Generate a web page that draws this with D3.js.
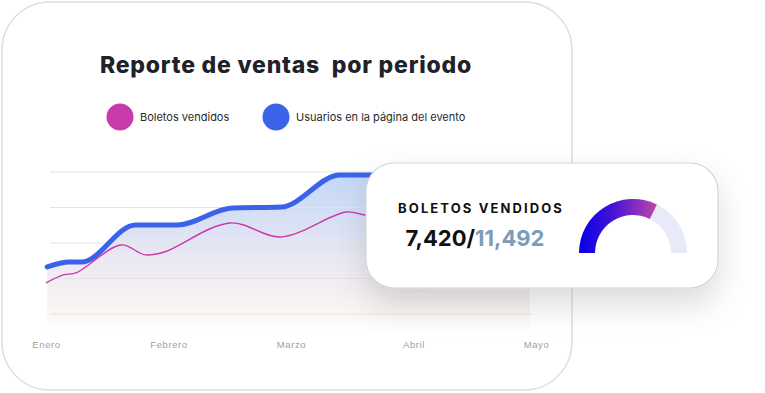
<!DOCTYPE html>
<html>
<head>
<meta charset="utf-8">
<script src="https://cdn.jsdelivr.net/npm/d3@7"></script>
<style>
  body { margin: 0; background: #fff; }
  svg { display: block; }
</style>
</head>
<body>
<div id="chart-area"></div>
<script>
// month labels on the x axis
var months = ["Enero", "Febrero", "Marzo", "Abril", "Mayo"];

// usuarios en la pagina (blue), position in months + value
var usuariosT = [0.01, 0.19, 0.29, 0.73, 1.07, 1.52, 1.92, 2.4, 3.95];
var usuarios  = [2650, 2930, 2930, 5014, 5014, 5972, 6028, 7831, 7831];

// boletos vendidos (magenta)
var boletosT = [0, 0.14, 0.25, 0.61, 0.81, 0.96, 1.5, 1.92, 2.45, 2.63, 3.24, 3.95];
var boletos  = [1750, 2200, 2330, 3890, 3330, 3480, 5130, 4340, 5750, 5560, 6100, 6300];

var gridValues = [0, 2000, 4000, 6000, 8000];

var vendidos = 7420;
var capacidad = 11492;

var width = 765, height = 393;

var svg = d3.select("#chart-area").append("svg")
    .attr("width", width)
    .attr("height", height);

var defs = svg.append("defs");

var areaGrad = defs.append("linearGradient")
    .attr("id", "area-grad")
    .attr("x1", 0).attr("y1", 0).attr("x2", 0).attr("y2", 1);
areaGrad.append("stop").attr("offset", "0%").attr("stop-color", "#c2d7f7");
areaGrad.append("stop").attr("offset", "55%").attr("stop-color", "#ece9f3");
areaGrad.append("stop").attr("offset", "85%").attr("stop-color", "#fbf3f2");
areaGrad.append("stop").attr("offset", "100%").attr("stop-color", "#ffffff");

var gaugeGrad = defs.append("linearGradient")
    .attr("id", "gauge-grad")
    .attr("gradientUnits", "userSpaceOnUse")
    .attr("x1", -54).attr("y1", 0).attr("x2", 24).attr("y2", 0);
gaugeGrad.append("stop").attr("offset", "0%").attr("stop-color", "#0500e6");
gaugeGrad.append("stop").attr("offset", "45%").attr("stop-color", "#4a12d8");
gaugeGrad.append("stop").attr("offset", "100%").attr("stop-color", "#bb48a8");

var shadow = defs.append("filter")
    .attr("id", "card-shadow")
    .attr("x", "-30%").attr("y", "-40%").attr("width", "160%").attr("height", "200%");
shadow.append("feDropShadow")
    .attr("dx", 0).attr("dy", 16)
    .attr("stdDeviation", 16)
    .attr("flood-color", "#000")
    .attr("flood-opacity", 0.14);

// main card
svg.append("rect")
    .attr("x", 2).attr("y", 2)
    .attr("width", 570).attr("height", 388)
    .attr("rx", 48).attr("ry", 48)
    .attr("fill", "#fff")
    .attr("stroke", "#dedede")
    .attr("stroke-width", 1.5);

svg.append("text")
    .attr("x", 286).attr("y", 73)
    .attr("text-anchor", "middle")
    .attr("font-family", "Inter, sans-serif")
    .attr("font-weight", 800)
    .attr("font-size", 23)
    .attr("letter-spacing", 0.8)
    .attr("fill", "#1f2329")
    .attr("xml:space", "preserve")
    .text("Reporte de ventas  por periodo");

// legend
var legend = [
    {label: "Boletos vendidos", color: "#c93aab", x: 120},
    {label: "Usuarios en la página del evento", color: "#3a63ea", x: 276}
];
var lg = svg.selectAll(".legend").data(legend).enter().append("g")
    .attr("class", "legend")
    .attr("transform", function(d) { return "translate(" + d.x + ",117)"; });
lg.append("circle").attr("r", 13.5).attr("fill", function(d) { return d.color; });
lg.append("text")
    .attr("x", 20).attr("y", 4)
    .attr("font-family", "Inter, sans-serif")
    .attr("font-size", 11)
    .attr("fill", "#2a2a2a")
    .text(function(d) { return d.label; });

// scales
var x = d3.scaleLinear().domain([0, 4]).range([46, 536]);
var y = d3.scaleLinear().domain([0, 8000]).range([314, 172]);

var usuariosData = usuariosT.map(function(t, i) { return {t: t, v: usuarios[i]}; });
var boletosData = boletosT.map(function(t, i) { return {t: t, v: boletos[i]}; });

var area = d3.area()
    .x(function(d) { return x(d.t); })
    .y0(y(-1000))
    .y1(function(d) { return y(d.v); })
    .curve(d3.curveMonotoneX);

svg.append("path")
    .datum(usuariosData)
    .attr("d", area)
    .attr("fill", "url(#area-grad)");

// grid
svg.selectAll(".grid").data(gridValues).enter().append("line")
    .attr("class", "grid")
    .attr("x1", 50).attr("x2", 532)
    .attr("y1", function(d) { return y(d); })
    .attr("y2", function(d) { return y(d); })
    .attr("stroke", "#e4e4e4")
    .attr("stroke-width", 1);

var line = d3.line()
    .x(function(d) { return x(d.t); })
    .y(function(d) { return y(d.v); })
    .curve(d3.curveMonotoneX);

svg.append("path")
    .datum(usuariosData)
    .attr("d", line)
    .attr("fill", "none")
    .attr("stroke", "#3a63ea")
    .attr("stroke-width", 5)
    .attr("stroke-linecap", "round");

svg.append("path")
    .datum(boletosData)
    .attr("d", line.curve(d3.curveCatmullRom.alpha(0.5)))
    .attr("fill", "none")
    .attr("stroke", "#cc38a8")
    .attr("stroke-width", 1.4);

// x axis
var axis = svg.append("g")
    .attr("transform", "translate(0,338)")
    .call(d3.axisBottom(x)
        .tickValues([0, 1, 2, 3, 4])
        .tickFormat(function(d) { return months[d]; })
        .tickSize(0));
axis.select(".domain").remove();
axis.selectAll("text")
    .attr("font-family", "'Liberation Sans', Arial, sans-serif")
    .attr("font-size", 9.5)
    .attr("letter-spacing", 0.6)
    .attr("fill", "#a0a0a0");

// summary card
var card = svg.append("g");
card.append("rect")
    .attr("x", 366).attr("y", 163)
    .attr("width", 352).attr("height", 125)
    .attr("rx", 28).attr("ry", 28)
    .attr("fill", "#fff")
    .attr("stroke", "#d4d4d4")
    .attr("stroke-width", 1.2)
    .attr("filter", "url(#card-shadow)");

card.append("text")
    .attr("x", 481).attr("y", 213)
    .attr("text-anchor", "middle")
    .attr("font-family", "Inter, sans-serif")
    .attr("font-weight", 700)
    .attr("font-size", 13)
    .attr("letter-spacing", 2.1)
    .attr("fill", "#111")
    .text("BOLETOS VENDIDOS");

var fmt = d3.format(",");
var num = card.append("text")
    .attr("x", 475).attr("y", 246)
    .attr("text-anchor", "middle")
    .attr("font-family", "Inter, sans-serif")
    .attr("font-weight", 700)
    .attr("font-size", 22)
    .attr("fill", "#111");
num.append("tspan").text(fmt(vendidos) + "/");
num.append("tspan").attr("fill", "#7d9cb6").text(fmt(capacidad));

// gauge
var gauge = card.append("g").attr("transform", "translate(633,253)");
var arc = d3.arc().innerRadius(38).outerRadius(54);
var gaugeScale = d3.scaleLinear().domain([0, capacidad]).range([-Math.PI / 2, Math.PI / 2]);
gauge.append("path")
    .attr("d", arc({startAngle: -Math.PI / 2, endAngle: Math.PI / 2}))
    .attr("fill", "#e8eaf9");
gauge.append("path")
    .attr("d", arc({startAngle: -Math.PI / 2, endAngle: gaugeScale(vendidos)}))
    .attr("fill", "url(#gauge-grad)");
</script>
</body>
</html>
